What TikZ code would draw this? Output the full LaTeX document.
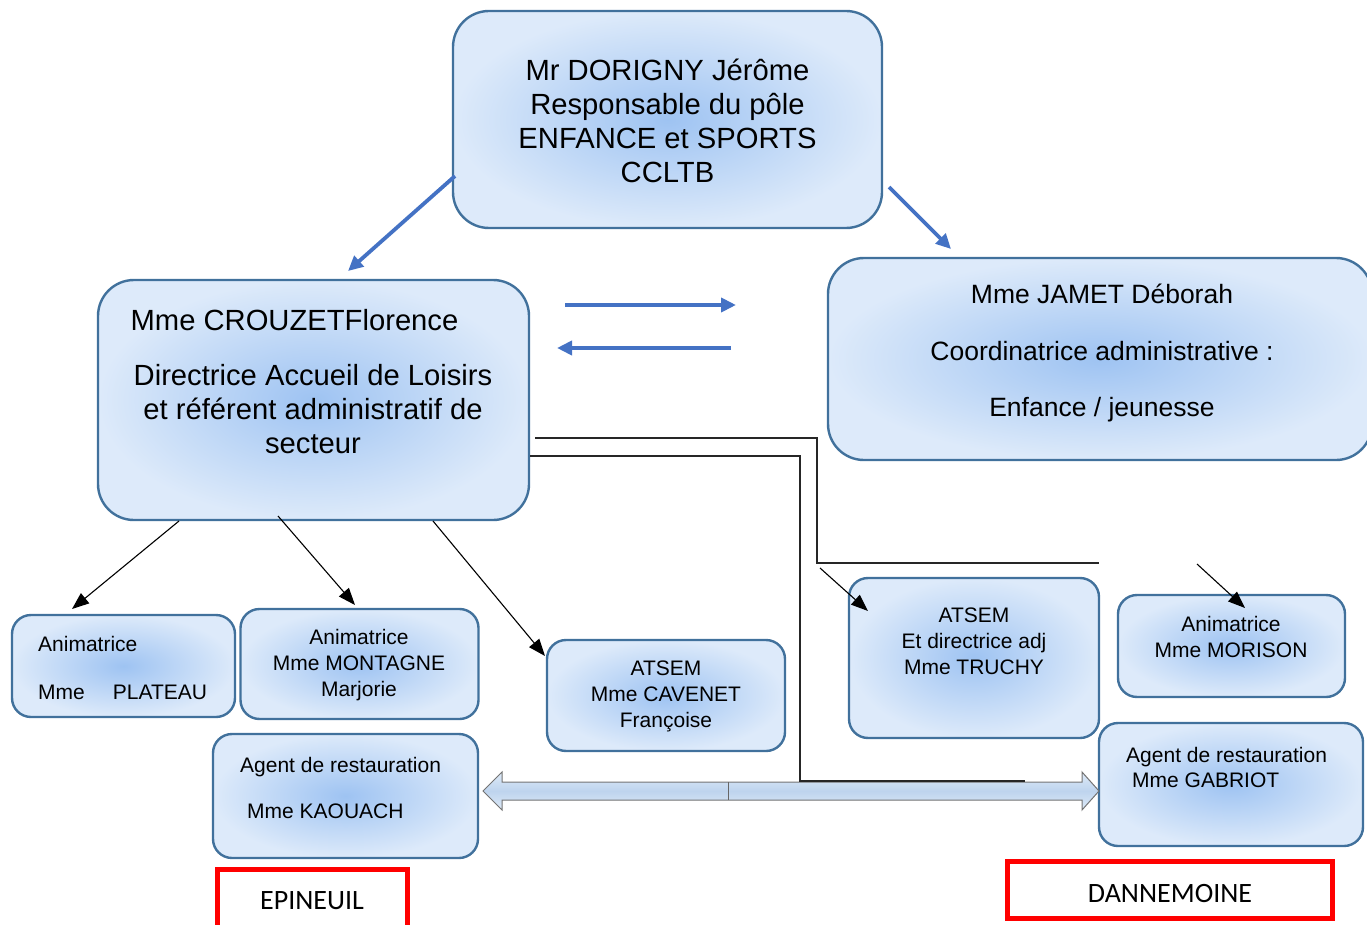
\documentclass[tikz,border=0pt]{standalone}
\usepackage{fontspec}
\setmainfont{Liberation Sans}
\newfontfamily\calibri{Carlito}
\usetikzlibrary{arrows.meta}
\definecolor{boxborder}{RGB}{65,113,156}
\definecolor{boxin}{RGB}{158,195,242}
\definecolor{boxout}{RGB}{221,234,250}
\definecolor{blueline}{RGB}{68,114,196}
\definecolor{arrtop}{RGB}{222,234,247}
\definecolor{arrmid}{RGB}{190,212,238}
\definecolor{redbox}{RGB}{255,0,0}
\tikzset{
  orgbox/.style={draw=boxborder, line width=2.4pt, inner sep=0pt, inner color=boxin, outer color=boxout},
  bigbox/.style={orgbox, rounded corners=36pt},
  smallbox/.style={orgbox, rounded corners=19pt},
  placebox/.style={draw=redbox, line width=5pt, inner sep=0pt},
  bigtxt/.style={align=center, inner sep=0pt, font=\fontsize{29.2}{34}\selectfont},
  midtxt/.style={align=center, inner sep=0pt, font=\fontsize{26.5}{56.5}\selectfont},
  smalltxt/.style={align=center, inner sep=0pt, font=\fontsize{21}{26}\selectfont},
  placetxt/.style={inner sep=0pt, font=\calibri\fontsize{28}{32}\selectfont},
  bluearrow/.style={draw=blueline, line width=3.8pt, -{Triangle[length=15pt,width=14pt]}},
  blackarrow/.style={draw=black, line width=1.1pt, -{Triangle[length=17pt,width=13pt]}},
  elbow/.style={draw=black!85, line width=1.3pt}
}
\begin{document}
\begin{tikzpicture}[x=1pt,y=-1pt]
\useasboundingbox (0,0) rectangle (1367,925);
\clip (0,0) rectangle (1367,925);

% boxes
\node[bigbox, minimum width=429pt, minimum height=217pt] (top) at (667.5,119.5) {};
\node[bigbox, minimum width=431pt, minimum height=240pt] (crouzet) at (313.5,400) {};
\node[bigbox, minimum width=544pt, minimum height=202pt] (jamet) at (1100,359) {};
\node[smallbox, minimum width=223pt, minimum height=102pt] (plateau) at (123.5,666) {};
\node[smallbox, minimum width=238pt, minimum height=110pt] (montagne) at (359.5,664) {};
\node[smallbox, minimum width=265pt, minimum height=124pt] (kaouach) at (345.5,796) {};
\node[smallbox, minimum width=238pt, minimum height=111pt] (cavenet) at (666,695.5) {};
\node[smallbox, minimum width=250pt, minimum height=160pt] (truchy) at (974,658) {};
\node[smallbox, minimum width=227pt, minimum height=102pt] (morison) at (1231.5,646) {};
\node[smallbox, minimum width=264pt, minimum height=123pt] (gabriot) at (1231,784.5) {};
\node[placebox, minimum width=190pt, minimum height=66pt] (epineuil) at (312,902) {};
\node[placebox, minimum width=325pt, minimum height=57pt] (dannemoine) at (1169.5,889.5) {};

% texts
\node[bigtxt] (toptxt) at (667.5,120.5) {Mr DORIGNY Jérôme\\Responsable du pôle\\ENFANCE et SPORTS\\CCLTB};
\node[bigtxt] (crtxta) at (294.5,320) {Mme CROUZETFlorence};
\node[bigtxt] (crtxtb) at (313,409) {Directrice Accueil de Loisirs\\et référent administratif de\\secteur};
\node[midtxt] (jamtxt) at (1102,353) {Mme JAMET Déborah\\Coordinatrice administrative :\\Enfance / jeunesse};
\node[smalltxt, align=left, anchor=west, font=\fontsize{21}{48}\selectfont] (pltxt) at (38,668) {Animatrice\\Mme\hspace*{28pt}PLATEAU};
\node[smalltxt] (motxt) at (359,665) {Animatrice\\Mme MONTAGNE\\Marjorie};
\node[smalltxt, align=left, anchor=west, font=\fontsize{21}{46}\selectfont] (katxt) at (240,788) {Agent de restauration\\\hspace*{7pt}Mme KAOUACH};
\node[smalltxt] (catxt) at (666,696) {ATSEM\\Mme CAVENET\\Françoise};
\node[smalltxt] (trtxt) at (974,641) {ATSEM\\Et directrice adj\\Mme TRUCHY};
\node[smalltxt] (mrtxt) at (1231,637) {Animatrice\\Mme MORISON};
\node[smalltxt, align=left, anchor=west, font=\fontsize{21}{25}\selectfont] (gatxt) at (1126,767) {Agent de restauration\\\hspace*{6pt}Mme GABRIOT};
\node[placetxt] (eptxt) at (312,901) {EPINEUIL};
\node[placetxt] (datxt) at (1170,894) {DANNEMOINE};

% connector end points
\coordinate (a1s) at (455,176); \coordinate (a1e) at (348,271);
\coordinate (a2s) at (889,187); \coordinate (a2e) at (951,249);
\coordinate (a3s) at (565,305); \coordinate (a3e) at (736,305);
\coordinate (a4s) at (731,348); \coordinate (a4e) at (557,348);
\coordinate (b1s) at (179,521); \coordinate (b1e) at (72,609);
\coordinate (b2s) at (278,516); \coordinate (b2e) at (355,605);
\coordinate (b3s) at (433,521); \coordinate (b3e) at (545,656);
\coordinate (b4s) at (820,568); \coordinate (b4e) at (868,611);
\coordinate (b5s) at (1197,564); \coordinate (b5e) at (1245,608);
\coordinate (e1s) at (535,438); \coordinate (e1e) at (1099,563);
\coordinate (e2s) at (530,456); \coordinate (e2e) at (1025,781);

% blue arrows
\draw[bluearrow] (a1s) -- (a1e);
\draw[bluearrow] (a2s) -- (a2e);
\draw[bluearrow] (a3s) -- (a3e);
\draw[bluearrow] (a4s) -- (a4e);

% black arrows
\draw[blackarrow] (b1s) -- (b1e);
\draw[blackarrow] (b2s) -- (b2e);
\draw[blackarrow] (b3s) -- (b3e);
\draw[blackarrow] (b4s) -- (b4e);
\draw[blackarrow] (b5s) -- (b5e);

% double arrow
\path[draw=black!55, line width=1pt, top color=arrtop, bottom color=arrtop, middle color=arrmid]
  (483,791) -- (502,772) -- (502,782) -- (1082,782) -- (1082,772) -- (1099,791)
  -- (1082,810) -- (1082,800) -- (502,800) -- (502,810) -- cycle;
\draw[black!60, line width=1pt] (728,782) -- (728,800);

% elbow lines
\draw[elbow] (e1s) -| (817,563) -- (e1e);
\draw[elbow] (e2s) -| (800,781) -- (e2e);
\end{tikzpicture}
\end{document}
